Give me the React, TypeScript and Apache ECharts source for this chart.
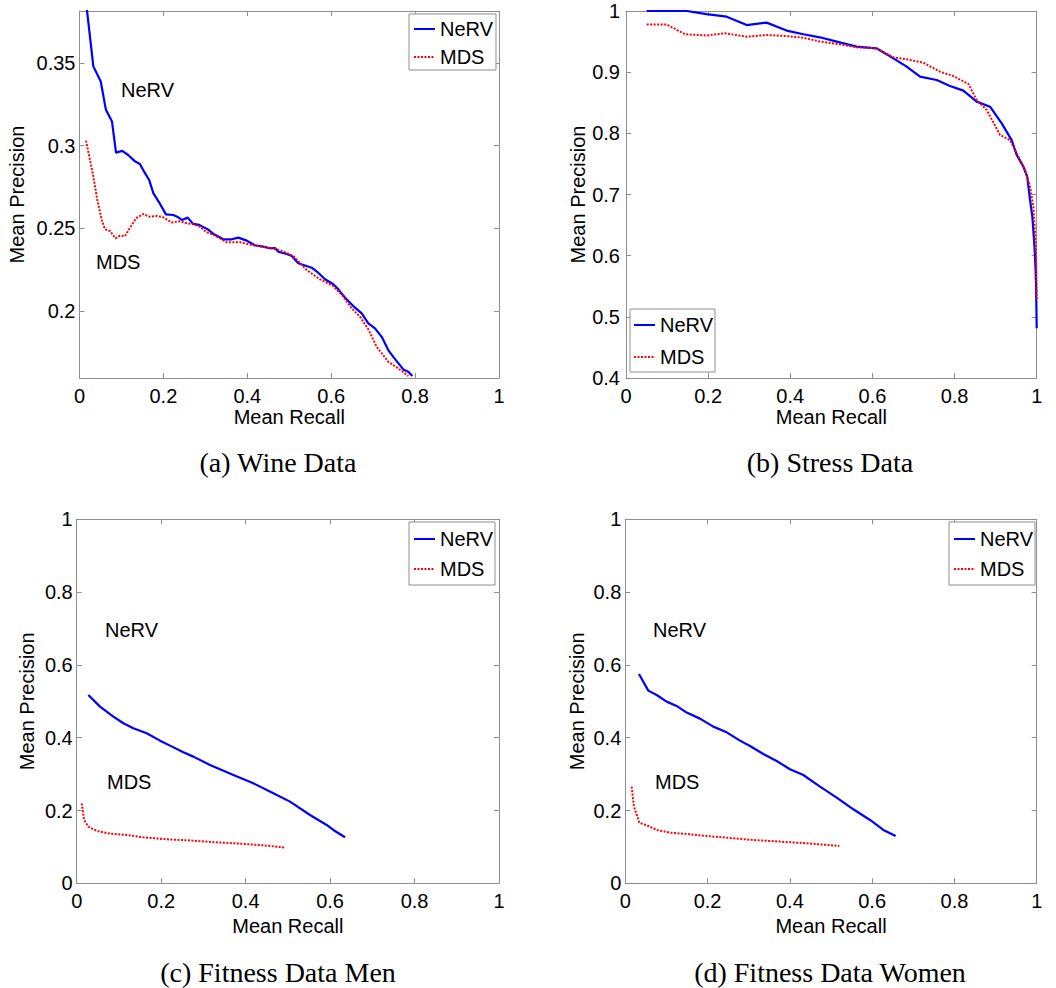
import React, { useEffect, useRef } from "react";
import * as echarts from "echarts";

// ---------- data ----------
const xTicks = [0, 0.2, 0.4, 0.6, 0.8, 1];
const wineYTicks = [0.2, 0.25, 0.3, 0.35];
const stressYTicks = [0.4, 0.5, 0.6, 0.7, 0.8, 0.9, 1];
const fitYTicks = [0, 0.2, 0.4, 0.6, 0.8, 1];

const wineNeRV: number[][] = [
  [0.012, 0.395], [0.033, 0.348], [0.0505, 0.339], [0.063, 0.3217], [0.0775, 0.3146],
  [0.087, 0.2958], [0.102, 0.2969], [0.116, 0.2944], [0.133, 0.2904], [0.144, 0.289],
  [0.154, 0.2843], [0.166, 0.2793], [0.176, 0.2713], [0.192, 0.2648], [0.206, 0.2585],
  [0.2236, 0.2581], [0.233, 0.2571], [0.244, 0.2551], [0.258, 0.2565], [0.271, 0.2527],
  [0.2856, 0.2521], [0.306, 0.2494], [0.3206, 0.2464], [0.3428, 0.2434], [0.363, 0.2434],
  [0.3786, 0.2444], [0.3986, 0.2426], [0.418, 0.2398], [0.438, 0.239], [0.454, 0.238],
  [0.466, 0.2381], [0.474, 0.2359], [0.494, 0.2345], [0.506, 0.2333], [0.5216, 0.2289],
  [0.5535, 0.2262], [0.569, 0.2232], [0.5853, 0.2192], [0.605, 0.2162], [0.617, 0.2131],
  [0.633, 0.2081], [0.6527, 0.203], [0.6727, 0.1986], [0.6885, 0.1926], [0.7044, 0.1895],
  [0.7204, 0.1844], [0.736, 0.1764], [0.748, 0.1723], [0.7719, 0.1647], [0.7838, 0.1633],
  [0.7934, 0.1607],
];
const wineMDS: number[][] = [
  [0.0155, 0.3031], [0.025, 0.2914], [0.033, 0.2813], [0.0425, 0.2672], [0.053, 0.2551],
  [0.0608, 0.2494], [0.0727, 0.2484], [0.0862, 0.244], [0.0965, 0.2456], [0.1085, 0.2454],
  [0.1204, 0.2504], [0.1347, 0.2561], [0.152, 0.2587], [0.1664, 0.2571], [0.184, 0.2575],
  [0.1998, 0.2567], [0.2198, 0.2535], [0.2396, 0.2543], [0.2555, 0.2531], [0.2713, 0.2525],
  [0.2872, 0.251], [0.3032, 0.2476], [0.319, 0.2462], [0.3509, 0.2416], [0.3826, 0.2416],
  [0.4105, 0.24], [0.446, 0.2384], [0.478, 0.2369], [0.5097, 0.2333], [0.5416, 0.2248],
  [0.5733, 0.2192], [0.605, 0.2151], [0.6289, 0.2087], [0.6488, 0.2016], [0.6687, 0.1966],
  [0.6885, 0.1889], [0.7084, 0.1784], [0.7361, 0.1693], [0.76, 0.1653], [0.7838, 0.1607],
];

const stressNeRV: number[][] = [
  [0.0503, 1.0], [0.1477, 1.0], [0.196, 0.995], [0.245, 0.9907], [0.294, 0.977],
  [0.3425, 0.981], [0.391, 0.968], [0.432, 0.962], [0.472, 0.957], [0.513, 0.95],
  [0.5617, 0.9417], [0.61, 0.939], [0.651, 0.9226], [0.6834, 0.909], [0.716, 0.8926],
  [0.7565, 0.8872], [0.789, 0.8774], [0.8214, 0.8698], [0.8539, 0.8518], [0.8864, 0.8436],
  [0.9148, 0.8163], [0.9391, 0.789], [0.9513, 0.7646], [0.9675, 0.7455], [0.977, 0.729],
  [0.9838, 0.691], [0.9894, 0.6638], [0.9935, 0.6256], [0.996, 0.598], [0.9984, 0.555],
  [1.0, 0.4812],
];
const stressMDS: number[][] = [
  [0.0503, 0.978], [0.099, 0.978], [0.1437, 0.962], [0.196, 0.96], [0.241, 0.9635],
  [0.294, 0.958], [0.3425, 0.9608], [0.391, 0.959], [0.432, 0.9564], [0.472, 0.95],
  [0.521, 0.9455], [0.5617, 0.9406], [0.61, 0.939], [0.651, 0.9243], [0.6834, 0.921],
  [0.724, 0.9155], [0.7646, 0.9008], [0.797, 0.8937], [0.8336, 0.8807], [0.8539, 0.8545],
  [0.8782, 0.8382], [0.9107, 0.7973], [0.935, 0.789], [0.9554, 0.7619], [0.9716, 0.74],
  [0.9838, 0.7128], [0.9919, 0.68], [0.996, 0.6365], [0.9984, 0.6038], [1.0, 0.5275],
];

const menNeRV: number[][] = [
  [0.0276, 0.5174], [0.0552, 0.4853], [0.0868, 0.4579], [0.1105, 0.4396], [0.1342, 0.4258],
  [0.1657, 0.4121], [0.1973, 0.3919], [0.221, 0.3782], [0.2526, 0.3599], [0.2762, 0.348],
  [0.3157, 0.3251], [0.371, 0.2976], [0.4183, 0.2747], [0.4657, 0.2473], [0.5051, 0.2244],
  [0.5525, 0.1877], [0.5919, 0.1603], [0.6077, 0.1465], [0.6354, 0.1264],
];
const menMDS: number[][] = [
  [0.0118, 0.2198], [0.0174, 0.174], [0.0276, 0.1557], [0.0474, 0.1438], [0.0789, 0.1364],
  [0.1184, 0.1328], [0.1579, 0.1264], [0.2131, 0.1209], [0.2762, 0.1172], [0.3315, 0.1126],
  [0.3867, 0.109], [0.442, 0.1044], [0.4949, 0.098],
];

const womenNeRV: number[][] = [
  [0.0332, 0.5751], [0.0559, 0.5293], [0.0762, 0.5174], [0.1005, 0.4991], [0.1248, 0.4872],
  [0.1491, 0.4689], [0.1815, 0.4524], [0.2139, 0.4304], [0.2464, 0.4148], [0.2788, 0.3919],
  [0.3031, 0.3773], [0.3355, 0.3553], [0.3679, 0.3361], [0.4003, 0.3132], [0.4327, 0.2976],
  [0.4733, 0.2656], [0.5138, 0.2353], [0.5543, 0.2033], [0.5948, 0.174], [0.6272, 0.1465],
  [0.6572, 0.13],
];
const womenMDS: number[][] = [
  [0.0154, 0.2656], [0.0211, 0.2106], [0.034, 0.1667], [0.0559, 0.1575], [0.0762, 0.1465],
  [0.1086, 0.1392], [0.1491, 0.1355], [0.1977, 0.13], [0.2545, 0.1245], [0.3112, 0.119],
  [0.376, 0.1145], [0.4408, 0.1099], [0.5203, 0.1026],
];

const seriesNames = ["NeRV", "MDS"];
const captions = ["(a) Wine Data", "(b) Stress Data", "(c) Fitness Data Men", "(d) Fitness Data Women"];
const xName = "Mean Recall";
const yName = "Mean Precision";

// ---------- layout / style ----------
const SANS = "Liberation Sans, Arial, Helvetica, sans-serif";
const SERIF = "Liberation Serif, Times New Roman, serif";
const GRAY = "#8e8e8e";

type Panel = {
  grid: { left: number; top: number; width: number; height: number };
  ymin: number; ymax: number; yticks: number[];
  yGap: number; xGap: number; yLabelMargin: number;
  nerv: number[][]; mds: number[][];
  legend: { left: number; top: number; padding: number[]; itemGap: number };
  notes: { text: string; x: number; y: number }[];
  caption: { x: number; y: number };
};

const panels: Panel[] = [
  {
    grid: { left: 79.5, top: 11, width: 419.5, height: 367 },
    ymin: 0.1595, ymax: 0.3815, yticks: wineYTicks, yGap: 52.5, xGap: 29, yLabelMargin: 4,
    nerv: wineNeRV, mds: wineMDS,
    legend: { left: 409, top: 14, padding: [5, 3, 3, 4], itemGap: 8 },
    notes: [{ text: "NeRV", x: 121, y: 91 }, { text: "MDS", x: 96, y: 263 }],
    caption: { x: 278, y: 462 },
  },
  {
    grid: { left: 626, top: 11, width: 410.7, height: 367 },
    ymin: 0.4, ymax: 1, yticks: stressYTicks, yGap: 38.5, xGap: 29, yLabelMargin: 6,
    nerv: stressNeRV, mds: stressMDS,
    legend: { left: 630, top: 309, padding: [6, 2, 5, 3], itemGap: 12 },
    notes: [],
    caption: { x: 830, y: 462 },
  },
  {
    grid: { left: 76.7, top: 519.3, width: 422.3, height: 364 },
    ymin: 0, ymax: 1, yticks: fitYTicks, yGap: 39.5, xGap: 32.5, yLabelMargin: 4,
    nerv: menNeRV, mds: menMDS,
    legend: { left: 409, top: 522, padding: [7, 2, 6, 4], itemGap: 10 },
    notes: [{ text: "NeRV", x: 105, y: 631 }, { text: "MDS", x: 107, y: 783 }],
    caption: { x: 278, y: 972 },
  },
  {
    grid: { left: 625.3, top: 519.3, width: 411.4, height: 364 },
    ymin: 0, ymax: 1, yticks: fitYTicks, yGap: 38.5, xGap: 32.5, yLabelMargin: 4,
    nerv: womenNeRV, mds: womenMDS,
    legend: { left: 949, top: 522, padding: [7, 2, 6, 4], itemGap: 10 },
    notes: [{ text: "NeRV", x: 653, y: 631 }, { text: "MDS", x: 655, y: 783 }],
    caption: { x: 830, y: 972 },
  },
];

function buildOption() {
  const grid: any[] = [];
  const xAxis: any[] = [];
  const yAxis: any[] = [];
  const series: any[] = [];
  const legend: any[] = [];
  const graphic: any[] = [];

  const tickCommon = { show: true, inside: true, length: 5, lineStyle: { color: GRAY, width: 1 } };
  const lineCommon = { show: true, onZero: false, lineStyle: { color: GRAY, width: 1 } };

  panels.forEach((p, i) => {
    grid.push({ ...p.grid, containLabel: false, outerBoundsMode: "none", show: false });

    const xBase = { type: "value", gridIndex: i, min: 0, max: 1, interval: 0.2, splitLine: { show: false }, axisLine: lineCommon };
    xAxis.push({
      ...xBase, position: "bottom",
      axisTick: { ...tickCommon, customValues: xTicks },
      axisLabel: { customValues: xTicks, color: "#000", fontSize: 20, fontFamily: SANS, margin: 8 },
      name: xName, nameLocation: "middle", nameGap: p.xGap,
      nameTextStyle: { color: "#000", fontSize: 20, fontFamily: SANS, verticalAlign: "top" },
    });
    xAxis.push({
      ...xBase, position: "top",
      axisTick: { ...tickCommon, customValues: xTicks },
      axisLabel: { show: false },
    });

    const yBase = { type: "value", gridIndex: i, min: p.ymin, max: p.ymax, splitLine: { show: false }, axisLine: lineCommon };
    yAxis.push({
      ...yBase, position: "left",
      axisTick: { ...tickCommon, customValues: p.yticks },
      axisLabel: { customValues: p.yticks, color: "#000", fontSize: 20, fontFamily: SANS, margin: p.yLabelMargin },
      name: yName, nameLocation: "middle", nameGap: p.yGap, nameRotate: 90,
      nameTextStyle: { color: "#000", fontSize: 20, fontFamily: SANS, verticalAlign: "bottom" },
    });
    yAxis.push({
      ...yBase, position: "right",
      axisTick: { ...tickCommon, customValues: p.yticks },
      axisLabel: { show: false },
    });

    series.push({
      name: seriesNames[0], type: "line", xAxisIndex: 2 * i, yAxisIndex: 2 * i,
      data: p.nerv, symbol: "none", showSymbol: false, clip: true,
      lineStyle: { color: "#0000ff", width: 2.2, type: "solid" },
      itemStyle: { color: "#0000ff" },
    });
    series.push({
      name: seriesNames[1], type: "line", xAxisIndex: 2 * i, yAxisIndex: 2 * i,
      data: p.mds, symbol: "none", showSymbol: false, clip: true,
      lineStyle: { color: "#ff0000", width: 2, type: [2, 1.5] },
      itemStyle: { color: "#ff0000" },
    });

    legend.push({
      show: true, orient: "vertical", left: p.legend.left, top: p.legend.top,
      padding: p.legend.padding, itemGap: p.legend.itemGap,
      itemWidth: 21, itemHeight: 20, align: "left",
      borderColor: GRAY, borderWidth: 1, backgroundColor: "#fff",
      data: seriesNames, selectedMode: false,
      itemStyle: { opacity: 0 },
      textStyle: { color: "#000", fontSize: 20, fontFamily: SANS },
    });

    p.notes.forEach((n) => {
      graphic.push({
        type: "text", left: n.x, top: n.y - 11, z: 100,
        style: { text: n.text, fill: "#000", font: `20px ${SANS}` },
      });
    });
    graphic.push({
      type: "text", x: p.caption.x, y: p.caption.y, z: 100,
      style: { text: captions[i], fill: "#000", font: `28px ${SERIF}`, textAlign: "center", textVerticalAlign: "middle" },
    });
  });

  return { animation: false, backgroundColor: "#fff", grid, xAxis, yAxis, series, legend, graphic };
}

export default function App() {
  const ref = useRef<HTMLDivElement>(null);
  useEffect(() => {
    if (!ref.current) return;
    const chart = echarts.init(ref.current, undefined, { renderer: "svg" });
    chart.setOption(buildOption() as any);
    return () => chart.dispose();
  }, []);
  return (
    <div
      ref={ref}
      style={{ position: "absolute", left: 0, top: 0, width: 1056, height: 988, background: "#fff" }}
    />
  );
}
